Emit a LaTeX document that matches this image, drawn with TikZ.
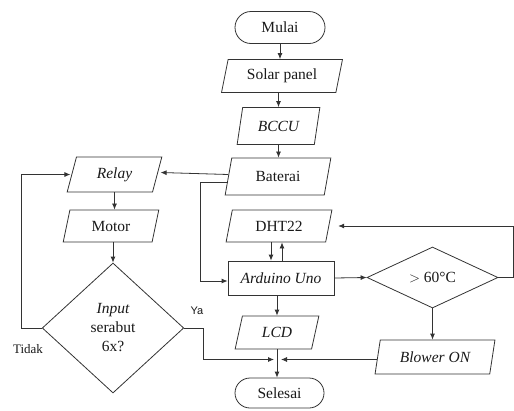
\documentclass[tikz,border=0pt]{standalone}
\usepackage{fontspec}
\setmainfont{Liberation Serif}
\newfontfamily\labsans{Liberation Sans}
\usetikzlibrary{shapes.geometric,shapes.misc,arrows.meta}
\begin{document}
\begin{tikzpicture}[x=1pt,y=-1pt,
  every node/.style={font=\fontsize{15.5}{19}\selectfont, text=black!90, inner sep=0pt},
  base/.style={draw=black!80, line width=0.8pt},
  para/.style={base, trapezium, trapezium left angle=73, trapezium right angle=107, trapezium stretches=true},
  term/.style={base, rounded rectangle, minimum width=90, minimum height=32},
  procbox/.style={base, rectangle, minimum width=106, minimum height=34},
  decide/.style={base, diamond, aspect=2},
  arr/.style={draw=black!80, line width=0.8pt, -{Latex[length=6pt,width=5pt]}},
  lin/.style={draw=black!80, line width=0.8pt},
  lab/.style={font=\fontsize{13}{15}\selectfont}
]
\useasboundingbox (0,0) rectangle (514,410);

\node[term] (mulai) at (280,27.5) {Mulai};
\node[para, minimum width=122, minimum height=33] (solar) at (282,76) {Solar panel};
\node[para, minimum width=83, minimum height=37] (bccu) at (278.5,126) {\itshape BCCU};
\node[para, minimum width=106, minimum height=37] (bat) at (278,176.5) {Baterai};
\node[para, minimum width=106, minimum height=32] (dht) at (279,226) {DHT22};
\node[procbox] (ard) at (281,278) {\itshape Arduino Uno};
\node[para, minimum width=84, minimum height=33] (lcd) at (277,332.5) {\itshape LCD};
\node[term, minimum width=89, minimum height=30] (sel) at (279.5,393) {Selesai};
\node[decide, minimum width=131, minimum height=61] (gt) at (432.5,277.5) {$>$ 60°C};
\node[para, minimum width=120, minimum height=34] (blower) at (435,357) {\itshape Blower ON};
\node[para, minimum width=95, minimum height=35] (relay) at (114.5,174.5) {\itshape Relay};
\node[para, minimum width=96, minimum height=32] (motor) at (111,226) {Motor};
\node[decide, minimum width=134, minimum height=130, align=center] (inp) at (113,328) {\itshape Input\\serabut\\6x?};

\node[lab] (tidak) at (28,349) {Tidak};
\node[lab, font=\labsans\fontsize{11}{13}\selectfont] (ya) at (197,311) {Ya};

\coordinate (m) at (278,359.5);
\coordinate (c1) at (200,182.5);

\draw[arr] (mulai.south) -- (mulai.south |- solar.north);
\draw[arr] (bccu.north |- solar.south) -- (bccu.north);
\draw[arr] (bccu.south) -- (bccu.south |- bat.north);
\draw[arr] ([yshift=2pt]bat.west) -- ([xshift=3pt,yshift=2pt]relay.east);
\draw[arr] ([yshift=-6pt]bat.west) -- (c1) |- ([yshift=-3pt]ard.west);
\draw[arr] ([xshift=-8pt]dht.south) -- ([xshift=-8pt]dht.south |- ard.north);
\draw[arr] ([xshift=3pt]dht.south |- ard.north) -- ([xshift=3pt]dht.south);
\draw[arr] (lcd.north |- ard.south) -- (lcd.north);
\draw[arr] (lcd.south) -- (lcd.south |- sel.north);
\draw[arr] (ard.east) -- (gt.west);
\draw[arr] (gt.south) -- (gt.south |- blower.north);
\draw[arr] (gt.east) -- ++(15,0) |- ([xshift=9pt]dht.east);
\draw[arr] (blower.west |- m) -- ([xshift=3pt]m);
\draw[arr] (relay.south) -- (relay.south |- motor.north);
\draw[arr] (inp.north |- motor.south) -- (inp.north);
\draw[arr] (inp.west) -- ++(-20,0) |- ([xshift=-1pt]relay.west);
\draw[arr] (inp.east) -- ++(19,0) |- ([xshift=-4pt]m);
\end{tikzpicture}
\end{document}
